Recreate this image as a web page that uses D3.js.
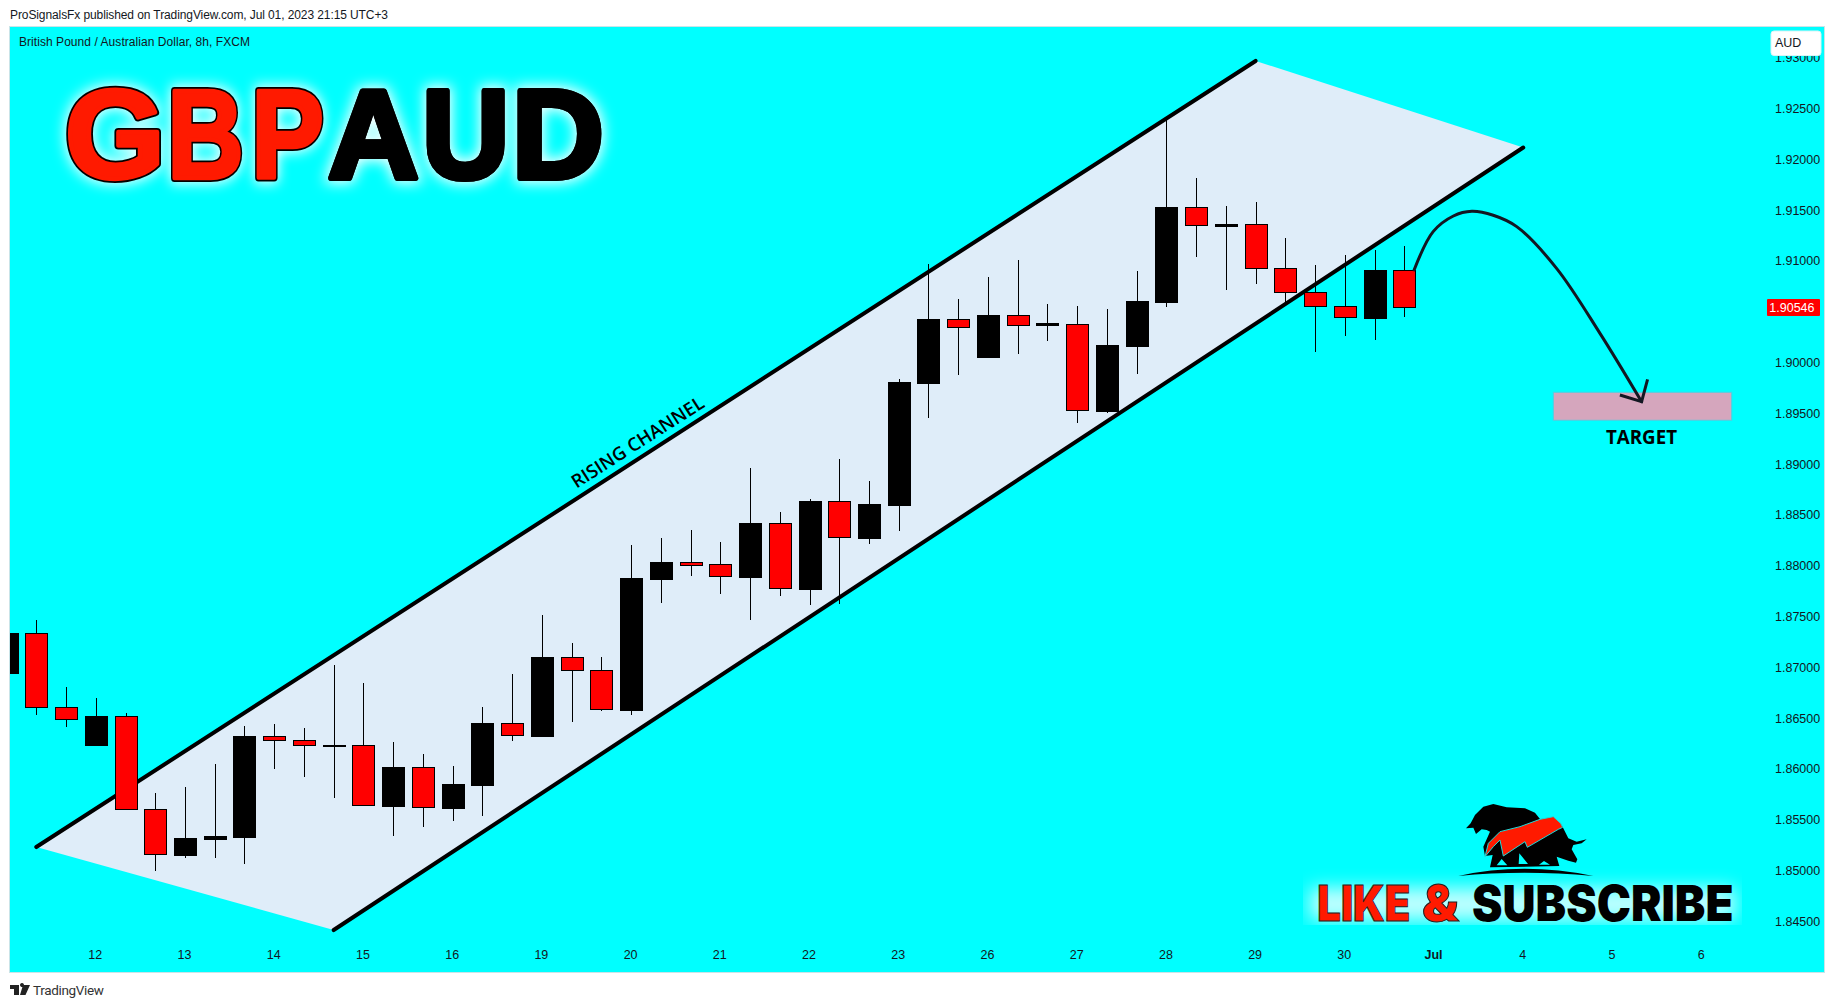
<!DOCTYPE html>
<html><head><meta charset="utf-8">
<script src="https://cdn.jsdelivr.net/npm/d3@7/dist/d3.min.js"></script>
<style>html,body{margin:0;padding:0;background:#fff;overflow:hidden}svg{display:block}</style>
</head><body><svg id="c" width="1835" height="1008"></svg>
<script>
const opens=[1.86947,1.87335,1.86606,1.86238,1.86518,1.85602,1.85156,1.85313,1.85333,1.86321,1.86282,1.86232,1.86232,1.85638,1.86016,1.85618,1.85845,1.86449,1.86324,1.87099,1.86970,1.86580,1.87869,1.88037,1.88014,1.87892,1.88417,1.87771,1.88634,1.88276,1.88601,1.89801,1.90428,1.90057,1.90465,1.90362,1.90376,1.89523,1.90162,1.90599,1.91528,1.91344,1.91360,1.90927,1.90691,1.90553,1.90438,1.90908];
const closes=[1.87338,1.86606,1.86488,1.86521,1.85602,1.85159,1.85320,1.85340,1.86324,1.86278,1.86228,1.86232,1.85642,1.86019,1.85622,1.85852,1.86452,1.86331,1.87101,1.86967,1.86583,1.87879,1.88037,1.88010,1.87892,1.88420,1.87774,1.88637,1.88280,1.88607,1.89808,1.90428,1.90352,1.90468,1.90362,1.90384,1.89530,1.90172,1.90605,1.91531,1.91347,1.91363,1.90923,1.90687,1.90549,1.90441,1.90911,1.90546];
const highs=[1.87338,1.87466,1.86803,1.86695,1.86547,1.85760,1.85822,1.86048,1.86422,1.86442,1.86403,1.87023,1.86846,1.86262,1.86147,1.86029,1.86609,1.86934,1.87515,1.87239,1.87101,1.88204,1.88273,1.88351,1.88233,1.88962,1.88529,1.88657,1.89050,1.88834,1.89838,1.90970,1.90625,1.90842,1.91009,1.90576,1.90556,1.90527,1.90901,1.92387,1.91816,1.91540,1.91580,1.91225,1.90960,1.91058,1.91107,1.91147];
const lows=[1.86947,1.86531,1.86415,1.86238,1.85602,1.84998,1.85126,1.85126,1.85067,1.86002,1.85923,1.85717,1.85642,1.85343,1.85431,1.85490,1.85539,1.86275,1.86324,1.86465,1.86570,1.86531,1.87636,1.87902,1.87725,1.87469,1.87705,1.87616,1.87626,1.88217,1.88345,1.89457,1.89877,1.90057,1.90087,1.90215,1.89408,1.89506,1.89890,1.90549,1.91041,1.90717,1.90776,1.90599,1.90106,1.90264,1.90225,1.90448];
const priceTicks=[1.845,1.85,1.855,1.86,1.865,1.87,1.875,1.88,1.885,1.89,1.895,1.90,1.91,1.915,1.92,1.925,1.93];
const dayIndex=[3,6,9,12,15,18,21,24,27,30,33,36,39,42,45,48,51,54,57];
const dayLabels=["12","13","14","15","16","19","20","21","22","23","26","27","28","29","30","Jul","4","5","6"];
const channelTop=[[1,1.85231],[42,1.92968]];
const channelBottom=[[11,1.84414],[51,1.92116]];
const arrowPath=[[47.33,1.90911],[47.97,1.91288],[48.65,1.91442],[49.27,1.91488],[49.99,1.91449],[50.78,1.91337],[52.12,1.90927],[53.58,1.90287],[54.98,1.89614]];
const arrowHead=[[54.25,1.89680],[54.98,1.89614],[55.18,1.89835]];
const targetZone=[52.01,58.01,1.89707,1.89431];

const svg=d3.select("#c");
const x=d3.scaleLinear().domain([1,47]).range([36.3,1404.3]);
const y=d3.scaleLinear().domain([1.845,1.925]).range([921.3,108.5]);
const INK="#131722",SANS="'Liberation Sans',Arial,sans-serif";
const defs=svg.append("defs");
defs.append("clipPath").attr("id","panel").append("rect").attr("x",10).attr("y",27).attr("width",1814).attr("height",945);
const glow=defs.append("filter").attr("id","glow").attr("x","-40%").attr("y","-40%").attr("width","180%").attr("height","180%");
glow.append("feGaussianBlur").attr("stdDeviation",7);
const g2=defs.append("filter").attr("id","glow2").attr("x","-20%").attr("y","-60%").attr("width","140%").attr("height","220%");
g2.append("feGaussianBlur").attr("stdDeviation",9);
defs.append("clipPath").attr("id","lbox").append("rect").attr("x",1303).attr("y",850).attr("width",439).attr("height",75);

// frame
svg.append("rect").attr("x",9.5).attr("y",26.5).attr("width",1815).attr("height",946).attr("fill","#00ffff").attr("stroke","#c9e4e8");
const plot=svg.append("g").attr("clip-path","url(#panel)");

// channel
const line=d3.line().x(d=>x(d[0])).y(d=>y(d[1]));
plot.append("path").attr("d",line([channelTop[0],channelTop[1],channelBottom[1],channelBottom[0]])+"Z").attr("fill","#dfedf9");
[channelTop,channelBottom].forEach(c=>plot.append("path").attr("d",line(c)).attr("stroke","#000").attr("stroke-width",4).attr("stroke-linecap","round").attr("fill","none"));

// candles
const bars=d3.range(opens.length);
const gc=plot.append("g").attr("shape-rendering","crispEdges");
gc.selectAll("line").data(bars).join("line")
 .attr("x1",i=>Math.round(x(i))+.5).attr("x2",i=>Math.round(x(i))+.5)
 .attr("y1",i=>y(highs[i])).attr("y2",i=>y(lows[i])).attr("stroke","#000");
gc.selectAll("rect").data(bars).join("rect")
 .attr("x",i=>Math.round(x(i))-10.5).attr("width",22)
 .attr("y",i=>Math.round(y(Math.max(opens[i],closes[i])))+.5)
 .attr("height",i=>Math.max(0.5,Math.abs(y(opens[i])-y(closes[i]))))
 .attr("fill",i=>closes[i]<opens[i]?"#ff0000":"#000").attr("stroke","#000");

// target zone
plot.append("rect").attr("x",x(targetZone[0])).attr("width",x(targetZone[1])-x(targetZone[0]))
 .attr("y",y(targetZone[2])).attr("height",y(targetZone[3])-y(targetZone[2]))
 .attr("fill","#d5a6bd").attr("stroke","#4dd0e1").attr("stroke-width",1);

// arrow
plot.append("path").attr("d",d3.line().x(d=>x(d[0])).y(d=>y(d[1])).curve(d3.curveCatmullRom)(arrowPath)).attr("fill","none").attr("stroke",INK).attr("stroke-width",3).attr("stroke-linecap","round");
plot.append("path").attr("d",line(arrowHead)).attr("fill","none").attr("stroke",INK).attr("stroke-width",3).attr("stroke-linejoin","miter");

const ANNOT="'Open Sans',sans-serif";
plot.append("text").text("TARGET").attr("x",x((targetZone[0]+targetZone[1])/2)-1).attr("y",444).attr("text-anchor","middle")
 .attr("font-family",ANNOT).attr("font-weight",700).attr("font-size",19).attr("textLength",71).attr("lengthAdjust","spacingAndGlyphs").attr("fill","#000");
plot.append("text").text("RISING CHANNEL").attr("text-anchor","middle").attr("font-family",ANNOT).attr("font-weight",600).attr("font-size",18.5).attr("fill","#000")
 .attr("transform","translate(637.5,442) rotate(-32.5)").attr("dy","0.36em");

// axes
const ya=d3.axisRight(y).tickValues(priceTicks).tickSize(0).tickPadding(0).tickFormat(d3.format(".5f"));
const yg=svg.append("g").attr("transform","translate(1775,0)").call(ya);
const xa=d3.axisBottom(x).tickValues(dayIndex).tickSize(0).tickPadding(0).tickFormat((d,i)=>dayLabels[i]);
const xg=svg.append("g").attr("transform","translate(-1,950)").call(xa);
[yg,xg].forEach(g=>{g.select(".domain").remove();g.selectAll("text").attr("font-family",SANS).attr("font-size",12.5).attr("fill",INK);});
xg.selectAll("text").filter(d=>d===48).attr("font-weight",700);

// AUD box
svg.append("rect").attr("x",1771).attr("y",31).attr("width",50).attr("height",24.5).attr("rx",3).attr("fill","#fff").attr("stroke","#d8f4f6");
svg.append("text").text("AUD").attr("x",1775).attr("y",47).attr("font-family",SANS).attr("font-size",12.5).attr("fill",INK);
// last price
const last=closes[closes.length-1];
svg.append("rect").attr("x",1767).attr("y",Math.round(y(last))-8).attr("width",53).attr("height",17).attr("rx",1).attr("fill","#ff0000");
svg.append("text").text(d3.format(".5f")(last)).attr("x",1814.5).attr("y",y(last)+4.5).attr("text-anchor","end").attr("font-family",SANS).attr("font-size",12.5).attr("fill","#fff");

// headers
svg.append("text").text("ProSignalsFx published on TradingView.com, Jul 01, 2023 21:15 UTC+3").attr("x",10).attr("y",19).attr("font-family",SANS).attr("font-size",12).attr("textLength",378).attr("fill",INK);
svg.append("text").text("British Pound / Australian Dollar, 8h, FXCM").attr("x",19).attr("y",46).attr("font-family",SANS).attr("font-size",12).attr("textLength",231).attr("fill",INK);

// fit a text's ink between two x edges, measured with a canvas
const ctx=document.createElement("canvas").getContext("2d");
function fit(sel,font,x0,x1,yy){
  ctx.font=font;
  const m=ctx.measureText(sel.text());
  const ink=m.actualBoundingBoxLeft+m.actualBoundingBoxRight;
  const sx=(x1-x0)/ink;
  sel.attr("transform",`translate(${x0+m.actualBoundingBoxLeft*sx},${yy}) scale(${sx},1)`);
  return sel;
}

// title
const TITLE_FONT="bold 127px 'Liberation Sans'";
const title=svg.append("g").attr("font-family",SANS).attr("font-weight",700).attr("font-size",127);
const titleLetters=[["G",66,161,1],["B",170,243,1],["P",254,324.5,1],["A",328,419,0],["U",426,505,0],["D",517,602,0]];
titleLetters.forEach(([t,a,b,red])=>{
  const o=red?4:3;
  fit(title.append("text").text(t),TITLE_FONT,a+o,b-o,178).attr("fill","#fff").attr("stroke","#fff").attr("stroke-width",10).attr("filter","url(#glow)");
});
titleLetters.forEach(([t,a,b,red])=>{
  const o=red?4:3, col=red?"#ff1a00":"#000";
  const mk=()=>fit(title.append("text").text(t),TITLE_FONT,a+o,b-o,178).attr("stroke-linejoin","round");
  mk().attr("fill","#000").attr("stroke","#000").attr("stroke-width",red?8:6);
  mk().attr("fill",col).attr("stroke",col).attr("stroke-width",red?4.5:6);
});

// subscribe logo
const lg=svg.append("g");
lg.append("g").attr("clip-path","url(#lbox)").append("rect").attr("x",1310).attr("y",888).attr("width",425).attr("height",32).attr("fill","#fff").attr("opacity",.75).attr("filter","url(#glow2)");
const LOGO_FONT="900 50px Inter";
const logoText=lg.append("g").attr("font-family","Inter,'Liberation Sans',sans-serif").attr("font-weight",900).attr("font-size",50);
fit(logoText.append("text").text("LIKE").attr("fill","#ff1a00").attr("stroke","#222").attr("stroke-width",1),LOGO_FONT,1319,1409,921);
fit(logoText.append("text").text("&").attr("fill","#ff1a00").attr("stroke","#222").attr("stroke-width",1),LOGO_FONT,1423,1460,921);
fit(logoText.append("text").text("SUBSCRIBE").attr("fill","#000"),LOGO_FONT,1473,1732,921);

const art=lg.append("g").attr("transform","translate(1440,790) scale(.3333)");
art.append("path").attr("fill","#000").attr("d","M78,115 L92,100 L105,75 L130,50 L160,42 L200,52 L255,55 L285,68 L310,100 L340,92 L365,105 L385,145 L410,155 L440,148 L425,160 L400,165 L395,178 L412,208 L408,218 L385,212 L350,200 L358,228 L150,232 L158,195 L135,198 L130,170 L150,125 L140,120 L125,118 L108,132 L100,113 Z");
art.append("path").attr("fill","#00ffff").attr("d","M170,226 L185,207 L202,226 Z M236,222 L238,190 L264,222 Z M297,224 L312,213 L330,224 Z");
art.append("path").attr("fill","#000").attr("d","M55,258 Q250,215 460,258 Q250,238 55,258 Z");
art.append("path").attr("fill","#ff1a00").attr("stroke","#20d8d8").attr("stroke-width",3).attr("d","M135,200 L145,160 L180,125 L240,110 L300,88 L340,80 L362,100 L368,112 L355,118 L262,172 L255,155 L190,198 L180,150 L160,170 Z");

// TradingView footer
const tv=svg.append("g").attr("transform","translate(10,985)");
tv.append("path").attr("fill","#222").attr("d","M0,0 H9 V10 H4 V4 H0 Z M10,0 A2,2 0 1 1 10,.01 Z M13,0 H20 L15.5,10 H10 Z");
svg.append("text").text("TradingView").attr("x",33).attr("y",995).attr("font-family","Roboto,sans-serif").attr("font-size",13.5).attr("textLength",71).attr("fill","#333");
</script></body></html>
